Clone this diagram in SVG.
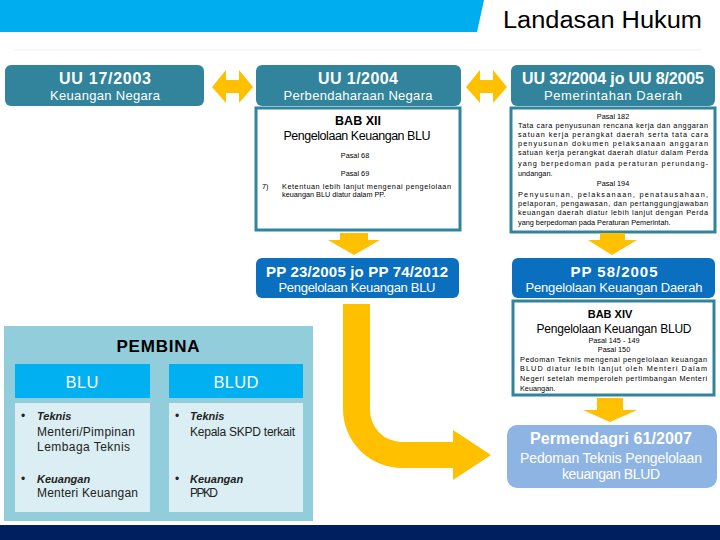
<svg xmlns="http://www.w3.org/2000/svg" width="720" height="540" viewBox="0 0 720 540">
<style>
.f{font-family:"Liberation Sans",Arial,sans-serif}
.teal{fill:#31849B}
.blue{fill:#0A6FBF}
.yel{fill:#FFC000}
.bord{fill:#fff;stroke:#31849B;stroke-width:3}
.w{fill:#fff}
.k{fill:#000}
.h1{font-size:16px;font-weight:bold}
.h2{font-size:13px}
.sm{font-size:7.3px;fill:#000}
.mid{text-anchor:middle}
.bl{font-size:12px;fill:#222}
.bi{font-weight:bold;font-style:italic;font-size:11px}
</style>
<rect width="720" height="540" fill="#fff"/>
<g id="header">
<polygon points="0,0 484,0 477,32 0,32" fill="#00AEEF"/>
<text class="f k" x="702" y="28" font-size="23" text-anchor="end" textLength="199" lengthAdjust="spacingAndGlyphs">Landasan Hukum</text>
<line x1="14" y1="50" x2="702" y2="50" stroke="#f2f2f2" stroke-width="1"/>
</g>
<g id="uu17">
<rect class="teal" x="5" y="65" width="199" height="41" rx="6"/>
<text class="f w h1 mid" x="105" y="84" textLength="92">UU 17/2003</text>
<text class="f w h2 mid" x="105" y="100" textLength="110">Keuangan Negara</text>
</g>
<g id="uu1">
<rect class="teal" x="256" y="65" width="205" height="41" rx="6"/>
<text class="f w h1 mid" x="358" y="84" textLength="80">UU 1/2004</text>
<text class="f w h2 mid" x="358" y="100" textLength="149">Perbendaharaan Negara</text>
</g>
<g id="uu32">
<rect class="teal" x="511" y="65" width="204" height="41" rx="6"/>
<text class="f w h1 mid" x="613" y="84" textLength="182">UU 32/2004 jo UU 8/2005</text>
<text class="f w h2 mid" x="613" y="100" textLength="138">Pemerintahan Daerah</text>
</g>
<g id="babxii">
<rect class="bord" x="256" y="108" width="204" height="122"/>
<text class="f k mid" x="358" y="125" font-size="12.5" font-weight="bold">BAB XII</text>
<text class="f k mid" x="357" y="140" font-size="12.5" textLength="147">Pengelolaan Keuangan BLU</text>
<text class="f sm mid" x="355" y="158">Pasal 68</text>
<text class="f sm mid" x="355" y="176">Pasal 69</text>
<text class="f sm" x="262" y="189">7)</text>
<text class="f sm" x="282" y="189" textLength="169" lengthAdjust="spacing">Ketentuan lebih lanjut mengenai pengelolaan</text>
<text class="f sm" x="282" y="197">keuangan BLU diatur dalam PP.</text>
</g>
<g id="pasal182">
<rect class="bord" x="511" y="108" width="204" height="124"/>
<text class="f sm mid" x="613" y="119">Pasal 182</text>
<text class="f sm" x="518" y="128" textLength="190" lengthAdjust="spacing">Tata cara penyusunan rencana kerja dan anggaran</text>
<text class="f sm" x="518" y="137" textLength="190" lengthAdjust="spacing">satuan kerja perangkat daerah serta tata cara</text>
<text class="f sm" x="518" y="146" textLength="190" lengthAdjust="spacing">penyusunan dokumen pelaksanaan anggaran</text>
<text class="f sm" x="518" y="155" textLength="190" lengthAdjust="spacing">satuan kerja perangkat daerah diatur dalam Perda</text>
<text class="f sm" x="518" y="166" textLength="190" lengthAdjust="spacing">yang berpedoman pada peraturan perundang-</text>
<text class="f sm" x="518" y="176">undangan.</text>
<text class="f sm mid" x="613" y="186">Pasal 194</text>
<text class="f sm" x="518" y="197" textLength="190" lengthAdjust="spacing">Penyusunan, pelaksanaan, penatausahaan,</text>
<text class="f sm" x="518" y="206" textLength="190" lengthAdjust="spacing">pelaporan, pengawasan, dan pertanggungjawaban</text>
<text class="f sm" x="518" y="215" textLength="190" lengthAdjust="spacing">keuangan daerah diatur lebih lanjut dengan Perda</text>
<text class="f sm" x="518" y="225">yang berpedoman pada Peraturan Pemerintah.</text>
</g>
<g id="pp23">
<rect class="blue" x="256" y="258" width="203" height="40" rx="6"/>
<text class="f w mid" x="357" y="277" font-size="15" font-weight="bold" textLength="182">PP 23/2005 jo PP 74/2012</text>
<text class="f w mid" x="357" y="292" font-size="13" textLength="157">Pengelolaan Keuangan BLU</text>
</g>
<g id="pp58">
<rect class="blue" x="512" y="258" width="203" height="40" rx="6"/>
<text class="f w mid" x="614" y="277" font-size="15" font-weight="bold" textLength="87">PP 58/2005</text>
<text class="f w mid" x="614" y="292" font-size="13" textLength="177">Pengelolaan Keuangan Daerah</text>
</g>
<g id="babxiv">
<rect class="bord" x="513" y="301" width="201" height="94"/>
<text class="f k mid" x="610" y="318" font-size="11" font-weight="bold">BAB XIV</text>
<text class="f k mid" x="614" y="333" font-size="12" textLength="155">Pengelolaan Keuangan BLUD</text>
<text class="f sm mid" x="614" y="343">Pasal 145 - 149</text>
<text class="f sm mid" x="614" y="352">Pasal 150</text>
<text class="f sm" x="520" y="362" textLength="187" lengthAdjust="spacing">Pedoman Teknis mengenai pengelolaan keuangan</text>
<text class="f sm" x="520" y="371" textLength="187" lengthAdjust="spacing">BLUD diatur lebih lanjut oleh Menteri Dalam</text>
<text class="f sm" x="520" y="381" textLength="187" lengthAdjust="spacing">Negeri setelah memperoleh pertimbangan Menteri</text>
<text class="f sm" x="520" y="391">Keuangan.</text>
</g>
<g id="permendagri">
<rect x="507" y="425" width="210" height="63" rx="10" fill="#8DB4E2"/>
<text class="f w mid" x="611" y="444" font-size="16" font-weight="bold" textLength="162">Permendagri 61/2007</text>
<text class="f w mid" x="611" y="463" font-size="14" textLength="182">Pedoman Teknis Pengelolaan</text>
<text class="f w mid" x="611" y="479" font-size="14" textLength="98">keuangan BLUD</text>
</g>
<g id="pembina">
<rect x="4" y="326" width="309" height="195" fill="#92CDDC"/>
<text class="f k mid" x="158" y="352" font-size="17" font-weight="bold" textLength="83">PEMBINA</text>
<rect x="15" y="364" width="135" height="34" fill="#00B0F0"/>
<rect x="169" y="364" width="134" height="34" fill="#00B0F0"/>
<text class="f w mid" x="82" y="388" font-size="16.5" textLength="33">BLU</text>
<text class="f w mid" x="236" y="388" font-size="16.5" textLength="45">BLUD</text>
<rect x="15" y="403" width="135" height="109" fill="#DAEEF3"/>
<rect x="169" y="403" width="134" height="109" fill="#DAEEF3"/>
<text class="f bl" x="21" y="420">•</text>
<text class="f bl bi" x="37" y="420">Teknis</text>
<text class="f bl" x="37" y="436" textLength="98">Menteri/Pimpinan</text>
<text class="f bl" x="37" y="451" textLength="93">Lembaga Teknis</text>
<text class="f bl" x="21" y="483">•</text>
<text class="f bl bi" x="37" y="483">Keuangan</text>
<text class="f bl" x="37" y="497" textLength="101">Menteri Keuangan</text>
<text class="f bl" x="175" y="420">•</text>
<text class="f bl bi" x="190" y="420">Teknis</text>
<text class="f bl" x="190" y="436" textLength="105">Kepala SKPD terkait</text>
<text class="f bl" x="175" y="483">•</text>
<text class="f bl bi" x="190" y="483">Keuangan</text>
<text class="f bl" x="190" y="497" textLength="28">PPKD</text>
</g>
<g id="connectors">
<path class="yel" d="M212,87 L226,70 V80 H239 V70 L253,87 L239,103 V93 H226 V103 Z"/>
<path class="yel" d="M466,87 L480,70 V80 H493 V70 L507,87 L493,103 V93 H480 V103 Z"/>
<path class="yel" d="M340,233 H368 V240 H380 L354,255 L328,240 H340 Z"/>
<path class="yel" d="M600,233 H625 V240 H637 L612,255 L588,240 H600 Z"/>
<path class="yel" d="M597,398 H623 V410 H637 L610,422 L583,410 H597 Z"/>
<path class="yel" d="M343,304 H370 V410 A32,32 0 0 0 402,442 H453 V430 L491,455 L453,480 V468 H402 A59,59 0 0 1 343,409 Z"/>
</g>
<rect id="footer" x="0" y="525" width="720" height="15" fill="#001F5F"/>
</svg>
